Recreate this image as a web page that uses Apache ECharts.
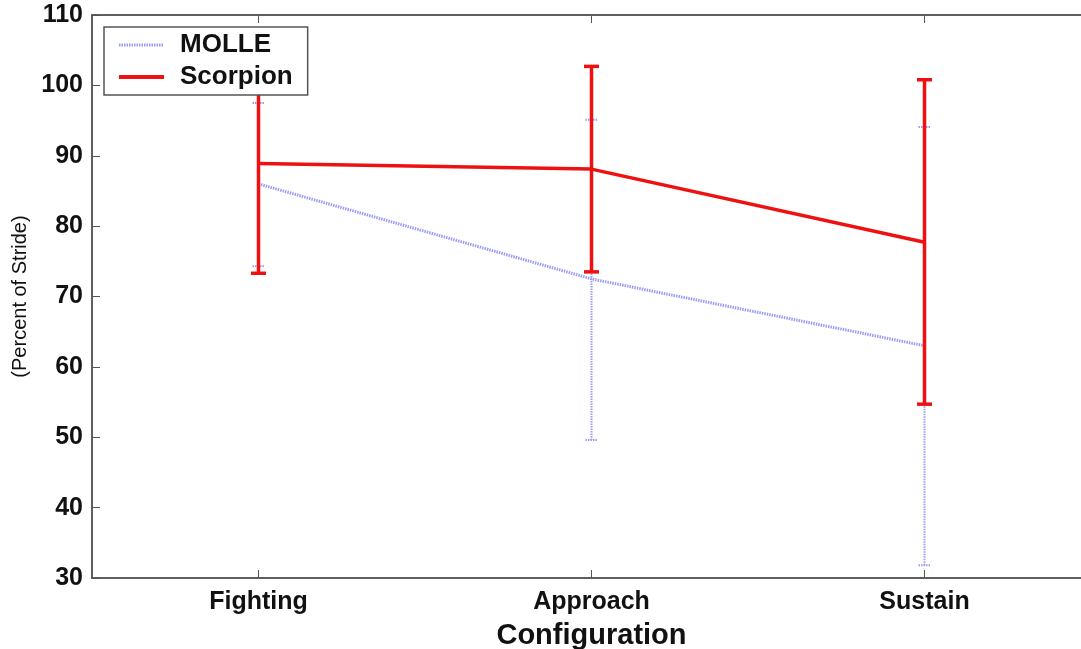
<!DOCTYPE html>
<html>
<head>
<meta charset="utf-8">
<script src="https://cdn.jsdelivr.net/npm/echarts@6/dist/echarts.min.js"></script>
<style>html,body{margin:0;padding:0;background:#fff}#c{width:1081px;height:649px}</style>
</head>
<body>
<div id="c"></div>
<script>
const categories = ['Fighting', 'Approach', 'Sustain'];
const molleMean = [86.0, 72.5, 63.0];
const molleLow = [74.3, 49.6, 31.8];
const molleHigh = [97.5, 95.1, 94.1];
const scorpionMean = [88.9, 88.1, 77.7];
const scorpionLow = [73.3, 73.5, 54.7];
const scorpionHigh = [104.6, 102.7, 100.8];
const yTicks = [30, 40, 50, 60, 70, 80, 90, 100, 110];

const FONT = '"Liberation Sans", Arial, Helvetica, sans-serif';
const MOLLE_COLOR = '#9c9cf4';
const RED = '#ee1111';

function errData(low, high) {
  return categories.map((c, i) => [i, low[i], high[i]]);
}
function errRender(color, width, capW, dash) {
  return function (params, api) {
    const x = api.value(0);
    const lo = api.coord([x, api.value(1)]);
    const hi = api.coord([x, api.value(2)]);
    const style = { stroke: color, lineWidth: width, lineDash: dash, fill: null };
    return {
      type: 'group',
      children: [
        { type: 'line', shape: { x1: lo[0], y1: lo[1], x2: hi[0], y2: hi[1] }, style: style },
        { type: 'line', shape: { x1: lo[0] - capW / 2, y1: lo[1], x2: lo[0] + capW / 2, y2: lo[1] }, style: style },
        { type: 'line', shape: { x1: hi[0] - capW / 2, y1: hi[1], x2: hi[0] + capW / 2, y2: hi[1] }, style: style }
      ]
    };
  };
}

const chart = echarts.init(document.getElementById('c'), null, { renderer: 'canvas' });
const axisLine = { show: true, lineStyle: { color: '#555', width: 1.5 } };
chart.setOption({
  animation: false,
  backgroundColor: '#fff',
  grid: { left: 92, right: -10, top: 15, bottom: 71, show: true, borderColor: '#555', borderWidth: 1.5,
    containLabel: false, outerBoundsMode: 'none' },
  legend: {
    orient: 'vertical', left: 104, top: 27,
    padding: [5, 15, 5, 13], itemGap: 6,
    itemWidth: 45, itemHeight: 14,
    backgroundColor: '#fff', borderColor: '#555', borderWidth: 1.5,
    itemStyle: { opacity: 0 },
    textStyle: { fontFamily: FONT, fontWeight: 'bold', fontSize: 26, color: '#111', padding: [0, 0, 0, 11] },
    data: [
      { name: 'MOLLE', lineStyle: { width: 3, color: MOLLE_COLOR, type: [1.5, 1] } },
      { name: 'Scorpion', lineStyle: { width: 4, color: RED } }
    ],
    z: 20
  },
  xAxis: [{
    type: 'category', data: categories, boundaryGap: true,
    name: 'Configuration', nameLocation: 'middle', nameGap: 43,
    nameTextStyle: { fontFamily: FONT, fontWeight: 'bold', fontSize: 29, color: '#111' },
    axisLine: axisLine,
    axisTick: { show: true, inside: true, alignWithLabel: true, length: 8, lineStyle: { color: '#555' } },
    axisLabel: { fontFamily: FONT, fontWeight: 'bold', fontSize: 25, color: '#111', margin: 12 },
    splitLine: { show: false }
  }, {
    type: 'category', data: categories, boundaryGap: true, position: 'top',
    axisLine: axisLine,
    axisTick: { show: true, inside: true, alignWithLabel: true, length: 8, lineStyle: { color: '#555' } },
    axisLabel: { show: false }
  }],
  yAxis: [{
    type: 'value', min: 30, max: 110, interval: 10,
    name: '(Percent of Stride)', nameLocation: 'middle', nameGap: 61,
    nameTextStyle: { fontFamily: FONT, fontSize: 20, color: '#111' },
    axisLine: axisLine,
    axisTick: { show: true, inside: true, length: 8, lineStyle: { color: '#555' } },
    axisLabel: { fontFamily: FONT, fontWeight: 'bold', fontSize: 25, color: '#111', margin: 9,
      formatter: v => yTicks.includes(v) ? String(v) : '' },
    splitLine: { show: false }
  }, {
    type: 'value', min: 30, max: 110, interval: 10, position: 'right',
    axisLine: axisLine,
    axisTick: { show: true, inside: true, length: 8, lineStyle: { color: '#555' } },
    axisLabel: { show: false }, splitLine: { show: false }
  }],
  series: [
    {
      name: 'MOLLE', type: 'line', data: molleMean, symbol: 'none', z: 2,
      lineStyle: { color: MOLLE_COLOR, width: 3, type: [1.5, 1] },
      itemStyle: { color: MOLLE_COLOR }
    },
    {
      name: 'MOLLE-err', type: 'custom', data: errData(molleLow, molleHigh), z: 2,
      renderItem: errRender(MOLLE_COLOR, 2, 12, [1.5, 1]), silent: true
    },
    {
      name: 'Scorpion', type: 'line', data: scorpionMean, symbol: 'none', z: 3,
      lineStyle: { color: RED, width: 3.5 },
      itemStyle: { color: RED }
    },
    {
      name: 'Scorpion-err', type: 'custom', data: errData(scorpionLow, scorpionHigh), z: 3,
      renderItem: errRender(RED, 3.5, 15, null), silent: true
    }
  ]
});
</script>
</body>
</html>
